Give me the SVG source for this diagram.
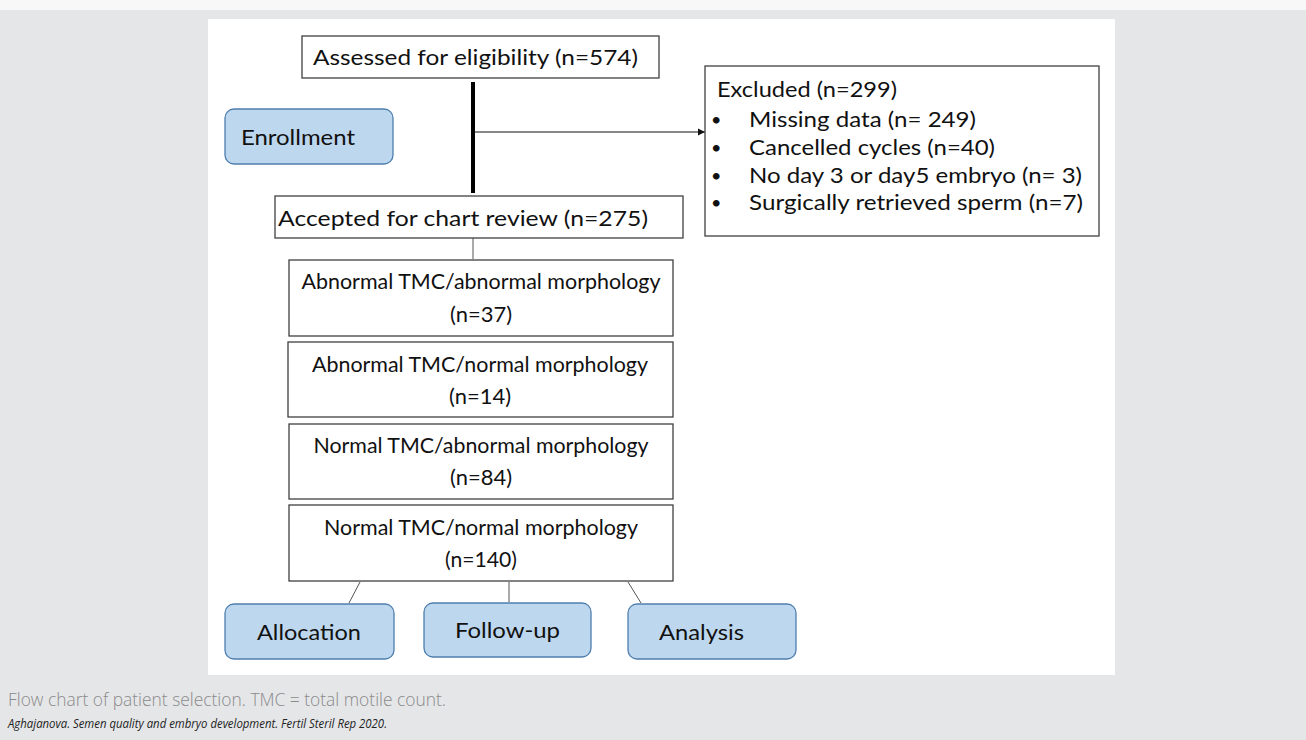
<svg xmlns="http://www.w3.org/2000/svg" width="1306" height="740" viewBox="0 0 1306 740">
<style>
.box{fill:#fff;stroke:#404040;stroke-width:1.3}
.blue{fill:#bdd7ee;stroke:#4f7fae;stroke-width:1.3}
.t{font-family:Lato,"Open Sans",sans-serif;font-size:22px;fill:#111}
.tc{font-family:Lato,"Open Sans",sans-serif;font-size:22px;fill:#111;text-anchor:middle}
.bul{font-family:Lato,"Open Sans",sans-serif;font-size:18px;fill:#111}
.cap{font-family:"Open Sans","Noto Sans",sans-serif;font-weight:300;font-size:19px;fill:#8a8a8a}
.src{font-family:"Open Sans","Noto Sans",sans-serif;font-style:italic;font-size:13px;fill:#222}
.ln{stroke:#555;stroke-width:1;fill:none}
</style>
<defs>
<marker id="arr" markerWidth="8" markerHeight="8" refX="7" refY="4" orient="auto" markerUnits="userSpaceOnUse">
<path d="M0,0.5 L7,4 L0,7.5 Z" fill="#111"/>
</marker>
</defs>
<rect x="0" y="0" width="1306" height="740" fill="#f8f8f8"/>
<rect x="0" y="10" width="1306" height="730" fill="#e5e6e8"/>
<rect x="208" y="19" width="907" height="656" fill="#fff"/>

<g id="connectors">
<line x1="473" y1="82" x2="473" y2="193" stroke="#000" stroke-width="4"/>
<line x1="473" y1="132" x2="705" y2="132" stroke="#111" stroke-width="1.2" marker-end="url(#arr)"/>
<line class="ln" x1="473" y1="238" x2="473" y2="259"/>
<line class="ln" x1="360" y1="582" x2="349" y2="603"/>
<line class="ln" x1="509" y1="582" x2="509" y2="602"/>
<line class="ln" x1="628" y1="582" x2="641" y2="603"/>
</g>

<g id="assessed">
<rect class="box" x="302" y="36" width="357" height="42"/>
<text class="t" x="313" y="65" textLength="325" lengthAdjust="spacingAndGlyphs">Assessed for eligibility  (n=574)</text>
</g>
<g id="enrollment">
<rect class="blue" x="225" y="109" width="168" height="55" rx="9"/>
<text class="t" x="241" y="145" textLength="114" lengthAdjust="spacingAndGlyphs">Enrollment</text>
</g>
<g id="accepted">
<rect class="box" x="275" y="196" width="408" height="42"/>
<text class="t" x="278" y="226" textLength="370" lengthAdjust="spacingAndGlyphs">Accepted for chart review (n=275)</text>
</g>
<g id="excluded">
<rect class="box" x="705" y="66" width="394" height="170"/>
<text class="t" x="717" y="97" textLength="180" lengthAdjust="spacingAndGlyphs">Excluded (n=299)</text>
<text class="bul" x="711" y="126">•</text>
<text class="t" x="749" y="127" textLength="227" lengthAdjust="spacingAndGlyphs">Missing data (n= 249)</text>
<text class="bul" x="711" y="154">•</text>
<text class="t" x="749" y="155" textLength="246" lengthAdjust="spacingAndGlyphs">Cancelled cycles (n=40)</text>
<text class="bul" x="711" y="182">•</text>
<text class="t" x="749" y="183" textLength="333" lengthAdjust="spacingAndGlyphs">No day 3 or day5 embryo (n= 3)</text>
<text class="bul" x="711" y="209">•</text>
<text class="t" x="749" y="210" textLength="334" lengthAdjust="spacingAndGlyphs">Surgically retrieved sperm (n=7)</text>
</g>
<g id="abn-abn">
<rect class="box" x="289" y="260" width="384" height="76"/>
<text class="tc" x="481" y="289" textLength="359" lengthAdjust="spacingAndGlyphs">Abnormal TMC/abnormal morphology</text>
<text class="tc" x="481" y="322" textLength="62" lengthAdjust="spacingAndGlyphs">(n=37)</text>
</g>
<g id="abn-norm">
<rect class="box" x="288" y="342" width="385" height="75"/>
<text class="tc" x="480" y="372" textLength="336" lengthAdjust="spacingAndGlyphs">Abnormal TMC/normal morphology</text>
<text class="tc" x="480" y="404" textLength="62" lengthAdjust="spacingAndGlyphs">(n=14)</text>
</g>
<g id="norm-abn">
<rect class="box" x="289" y="424" width="384" height="75"/>
<text class="tc" x="481" y="453" textLength="335" lengthAdjust="spacingAndGlyphs">Normal TMC/abnormal morphology</text>
<text class="tc" x="481" y="485" textLength="62" lengthAdjust="spacingAndGlyphs">(n=84)</text>
</g>
<g id="norm-norm">
<rect class="box" x="289" y="505" width="384" height="76"/>
<text class="tc" x="481" y="535" textLength="314" lengthAdjust="spacingAndGlyphs">Normal TMC/normal morphology</text>
<text class="tc" x="481" y="567" textLength="72" lengthAdjust="spacingAndGlyphs">(n=140)</text>
</g>
<g id="allocation">
<rect class="blue" x="225" y="604" width="169" height="55" rx="9"/>
<text class="t" x="257" y="640" textLength="104" lengthAdjust="spacingAndGlyphs">Allocation</text>
</g>
<g id="followup">
<rect class="blue" x="424" y="603" width="167" height="54" rx="9"/>
<text class="t" x="455" y="638" textLength="105" lengthAdjust="spacingAndGlyphs">Follow-up</text>
</g>
<g id="analysis">
<rect class="blue" x="628" y="604" width="168" height="55" rx="9"/>
<text class="t" x="659" y="640" textLength="85" lengthAdjust="spacingAndGlyphs">Analysis</text>
</g>

<text class="cap" x="8" y="706" textLength="438" lengthAdjust="spacingAndGlyphs">Flow chart of patient selection. TMC = total motile count.</text>
<text class="src" x="8" y="728" textLength="379" lengthAdjust="spacingAndGlyphs">Aghajanova. Semen quality and embryo development. Fertil Steril Rep 2020.</text>
</svg>
